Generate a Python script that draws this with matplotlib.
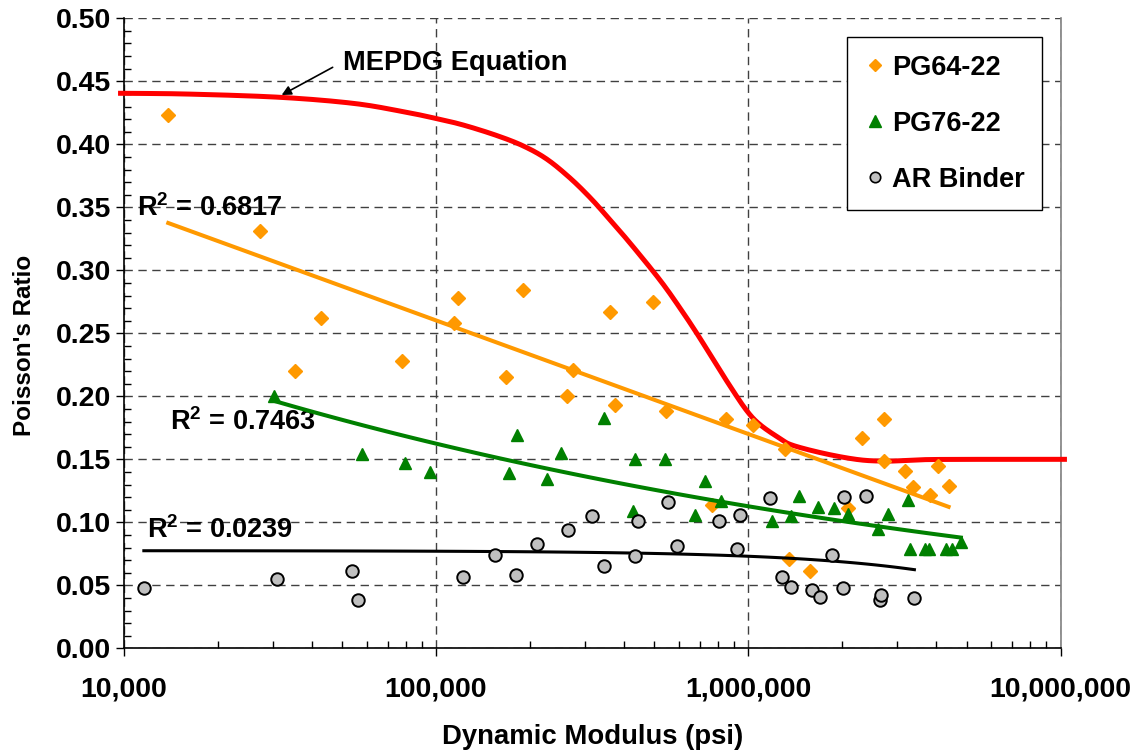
import numpy as np
import matplotlib
matplotlib.use("Agg")
import matplotlib.pyplot as plt
from matplotlib.ticker import FuncFormatter, MultipleLocator, LogLocator, NullFormatter
from matplotlib.lines import Line2D

plt.rcParams['font.family'] = ['Liberation Sans', 'DejaVu Sans']
plt.rcParams['font.weight'] = 'bold'
plt.rcParams['mathtext.fontset'] = 'custom'
plt.rcParams['mathtext.rm'] = 'Liberation Sans:bold'
plt.rcParams['mathtext.bf'] = 'Liberation Sans:bold'
plt.rcParams['mathtext.default'] = 'bf'

# Measured Poisson's ratio vs dynamic modulus (psi)
pg64_modulus = [13900, 27400, 35450, 42900, 77600, 114000, 117300, 167000, 189700, 262700,
                274000, 360300, 373700, 495000, 546400, 766000, 849000, 1032000, 1312000, 1351000,
                1573000, 2084000, 2315000, 2716000, 2725000, 3184000, 3367000, 3826000, 4036000, 4376000]
pg64_ratio = [0.423, 0.331, 0.220, 0.262, 0.228, 0.258, 0.278, 0.215, 0.284, 0.200,
              0.221, 0.267, 0.193, 0.275, 0.188, 0.114, 0.182, 0.177, 0.158, 0.071,
              0.061, 0.111, 0.167, 0.182, 0.149, 0.141, 0.128, 0.122, 0.145, 0.129]

pg76_modulus = [30400, 57900, 79500, 96000, 170700, 181500, 226200, 251300, 345500, 427500,
                435000, 542500, 672700, 729000, 818500, 1187000, 1368000, 1454000, 1676000, 1881000,
                2084000, 2598000, 2796000, 3246000, 3304000, 3687000, 3782000, 4290000, 4484000, 4790000]
pg76_ratio = [0.200, 0.154, 0.147, 0.140, 0.139, 0.169, 0.134, 0.155, 0.183, 0.109,
              0.150, 0.150, 0.106, 0.133, 0.117, 0.101, 0.105, 0.121, 0.112, 0.111,
              0.107, 0.095, 0.107, 0.118, 0.079, 0.079, 0.079, 0.079, 0.079, 0.084]

ar_modulus = [11610, 30990, 53770, 56190, 121800, 154000, 180600, 211300, 265200, 315000,
              343900, 435000, 442600, 552900, 589300, 804000, 920200, 940700, 1173000, 1277000,
              1365000, 1597000, 1701000, 1849000, 2004000, 2029000, 2384000, 2636000, 2651000, 3401000]
ar_ratio = [0.048, 0.055, 0.061, 0.038, 0.057, 0.074, 0.058, 0.083, 0.094, 0.105,
            0.065, 0.073, 0.101, 0.116, 0.081, 0.101, 0.079, 0.106, 0.119, 0.057,
            0.049, 0.046, 0.041, 0.074, 0.048, 0.120, 0.121, 0.038, 0.042, 0.040]

# MEPDG predicted Poisson's ratio curve
mepdg_modulus = [9600, 15920, 31670, 54360, 78600, 100000, 122300, 156400, 190300, 226200,
                 268500, 311200, 351900, 417800, 521200, 604000, 683200, 772000, 873300, 987600,
                 1089000, 1263000, 1392000, 1781000, 2276000, 2772000, 3291000, 4105000, 10470000]
mepdg_ratio = [0.4405, 0.4399, 0.4373, 0.4325, 0.4259, 0.4205, 0.4153, 0.4070, 0.3987, 0.3883,
               0.3733, 0.3578, 0.3431, 0.3217, 0.2923, 0.2701, 0.2502, 0.2292, 0.2082, 0.1887,
               0.1776, 0.1665, 0.1610, 0.1542, 0.1496, 0.1486, 0.1492, 0.1499, 0.1500]

r2_labels = ["0.6817", "0.7463", "0.0239"]

ORANGE = '#FF9900'
GREEN = '#008000'
GRAY = '#C0C0C0'
RED = '#FF0000'

fig = plt.figure(figsize=(11.37, 7.53), dpi=100)
ax = fig.add_axes([0.1087, 0.1390, 0.8242, 0.8367])

ax.set_xscale('log')
ax.set_xlim(1e4, 1e7)
ax.set_ylim(0.0, 0.5)


def smooth_curve(x, y, n=20):
    """Catmull-Rom spline through the points, evaluated in log-x space."""
    u = np.log10(np.asarray(x, float))
    v = np.asarray(y, float)
    pu = np.concatenate([[2 * u[0] - u[1]], u, [2 * u[-1] - u[-2]]])
    pv = np.concatenate([[2 * v[0] - v[1]], v, [2 * v[-1] - v[-2]]])
    out_u, out_v = [], []
    t = np.linspace(0, 1, n, endpoint=False)
    for i in range(1, len(pu) - 2):
        for arr, out in ((pu, out_u), (pv, out_v)):
            p0, p1, p2, p3 = arr[i - 1], arr[i], arr[i + 1], arr[i + 2]
            out.extend(0.5 * ((2 * p1) + (-p0 + p2) * t
                              + (2 * p0 - 5 * p1 + 4 * p2 - p3) * t ** 2
                              + (-p0 + 3 * p1 - 3 * p2 + p3) * t ** 3))
    out_u.append(u[-1])
    out_v.append(v[-1])
    return 10 ** np.array(out_u), np.array(out_v)


def log_trend(x, y):
    a, b = np.polyfit(np.log(np.asarray(x, float)), np.asarray(y, float), 1)
    xs = np.logspace(np.log10(min(x)), np.log10(max(x)), 100)
    return xs, a * np.log(xs) + b


def power_trend(x, y):
    b, la = np.polyfit(np.log(np.asarray(x, float)), np.log(np.asarray(y, float)), 1)
    xs = np.logspace(np.log10(min(x)), np.log10(max(x)), 100)
    return xs, np.exp(la) * xs ** b


def linear_trend(x, y):
    a, b = np.polyfit(np.asarray(x, float), np.asarray(y, float), 1)
    xs = np.logspace(np.log10(min(x)), np.log10(max(x)), 100)
    return xs, a * xs + b


# MEPDG curve
mx, my = smooth_curve(mepdg_modulus, mepdg_ratio)
ax.plot(mx, my, color=RED, lw=3.6, solid_capstyle='butt', zorder=3, clip_on=False)

# PG64-22 series with logarithmic trendline
xs, ys = log_trend(pg64_modulus, pg64_ratio)
ax.plot(xs, ys, color=ORANGE, lw=2.9, zorder=4)
ax.plot(pg64_modulus, pg64_ratio, ls='none', marker='D', ms=7.0, color=ORANGE,
        mec=ORANGE, zorder=5)

# PG76-22 series with power trendline
xs, ys = power_trend(pg76_modulus, pg76_ratio)
ax.plot(xs, ys, color=GREEN, lw=2.9, zorder=6)
ax.plot(pg76_modulus, pg76_ratio, ls='none', marker='^', ms=9.0, color=GREEN,
        mec=GREEN, zorder=7)

# AR Binder series with linear trendline
xs, ys = linear_trend(ar_modulus, ar_ratio)
ax.plot(xs, ys, color='black', lw=2.2, zorder=8)
ax.plot(ar_modulus, ar_ratio, ls='none', marker='o', ms=9.0, mfc=GRAY,
        mec='black', mew=1.4, zorder=9)

# axes styling
ax.yaxis.set_major_locator(MultipleLocator(0.05))
ax.yaxis.set_minor_locator(MultipleLocator(0.01))
ax.yaxis.set_major_formatter(FuncFormatter(lambda v, p: f"{v:.2f}"))
ax.xaxis.set_major_locator(LogLocator(base=10, numticks=10))
ax.xaxis.set_minor_locator(LogLocator(base=10, subs=np.arange(2, 10), numticks=20))
ax.xaxis.set_minor_formatter(NullFormatter())
ax.xaxis.set_major_formatter(FuncFormatter(lambda v, p: f"{int(round(v)):,}"))

ax.tick_params(axis='both', which='major', direction='out', length=6, width=1,
               labelsize=20.5, color='black')
ax.tick_params(axis='both', which='minor', direction='in', length=5, width=1, color='black')
ax.tick_params(axis='x', which='major', pad=14)
ax.tick_params(axis='y', which='major', pad=3)
ax.tick_params(axis='y', which='both', right=False)

ax.grid(True, which='major', axis='both', color='#404040', lw=1.0, ls=(0, (6, 4)))
ax.set_axisbelow(True)

ax.spines['top'].set_visible(False)
ax.spines['right'].set_color('#808080')
ax.spines['right'].set_linewidth(1.2)
ax.spines['left'].set_linewidth(1.2)
ax.spines['bottom'].set_linewidth(1.2)

ax.set_xlabel('Dynamic Modulus (psi)', fontsize=19.8, fontweight='bold', labelpad=16)
ax.set_ylabel("Poisson's Ratio", fontsize=17.5, fontweight='bold')
ax.yaxis.set_label_coords(-0.0935, 0.481)

# annotations
ax.text(50400, 0.4645, 'MEPDG Equation', fontsize=19.6, fontweight='bold',
        va='center', ha='left')
ax.annotate('', xy=(32060, 0.4391), xytext=(46700, 0.4611),
            arrowprops=dict(arrowstyle='-|>', color='black', lw=1.2,
                            mutation_scale=14, shrinkA=0, shrinkB=0))

ax.text(11040, 0.3494, f'R$^2$ = {r2_labels[0]}', fontsize=19.5, va='center', ha='left')
ax.text(14080, 0.1796, f'R$^2$ = {r2_labels[1]}', fontsize=19.5, va='center', ha='left')
ax.text(11880, 0.0939, f'R$^2$ = {r2_labels[2]}', fontsize=19.5, va='center', ha='left')

# legend
handles = [
    Line2D([], [], ls='none', marker='D', ms=6, color=ORANGE, mec=ORANGE),
    Line2D([], [], ls='none', marker='^', ms=8, color=GREEN, mec=GREEN),
    Line2D([], [], ls='none', marker='o', ms=7.5, mfc=GRAY, mec='black', mew=1.2),
]
leg = ax.legend(handles, ['PG64-22', 'PG76-22', 'AR Binder'], loc='upper left',
                bbox_to_anchor=(0.772, 0.970), fontsize=19.5, frameon=True,
                fancybox=False, edgecolor='black', framealpha=1.0,
                borderpad=0.64, labelspacing=1.11, handlelength=0.8,
                handletextpad=0.22, borderaxespad=0.0)
leg.get_frame().set_linewidth(1.0)
for t in leg.get_texts():
    t.set_fontweight('bold')

fig.savefig('out.png', dpi=100)
